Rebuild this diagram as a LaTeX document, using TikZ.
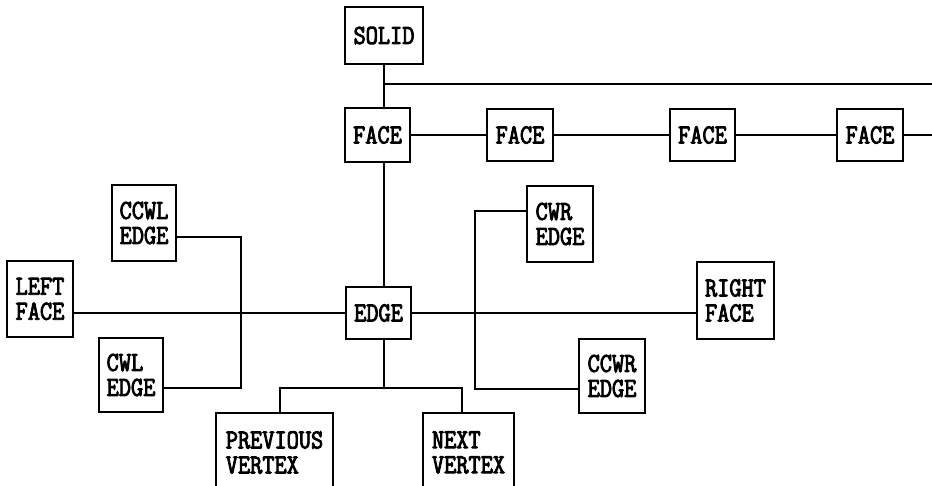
\documentclass[tikz,border=0pt]{standalone}
\usepackage{fontspec}
\setmonofont{Latin Modern Mono}[FakeStretch=0.86, AutoFakeBold=3.2]
\begin{document}
\begin{tikzpicture}[x=1pt,y=-1pt,
  box/.style={draw, line width=1.2pt, inner sep=0pt, align=left,
    font=\ttfamily\bfseries\fontsize{27.5}{25}\selectfont},
  wire/.style={line width=1.2pt}]
\clip (0,0) rectangle (932,485);
\fill[white] (0,0) rectangle (932,485);
% nodes
\node[box, minimum width=78, minimum height=57] (solid) at (384,35.5) {SOLID};
\node[box, minimum width=65, minimum height=54] (face1) at (377.5,135) {FACE};
\node[box, minimum width=66, minimum height=52] (face2) at (520,135) {FACE};
\node[box, minimum width=65, minimum height=52] (face3) at (702.5,135) {FACE};
\node[box, minimum width=66, minimum height=52] (face4) at (870,135) {FACE};
\node[box, minimum width=64, minimum height=76] (ccwl) at (144,223) {CCWL\\EDGE};
\node[box, minimum width=66, minimum height=76] (leftf) at (40,299) {LEFT\\FACE};
\node[box, minimum width=64, minimum height=74] (cwl) at (131,375) {CWL\\EDGE};
\node[box, minimum width=65, minimum height=52] (edge) at (378.5,313) {EDGE};
\node[box, minimum width=66, minimum height=76] (cwr) at (560,224) {CWR\\EDGE};
\node[box, minimum width=77, minimum height=77] (rightf) at (735.5,300.5) {RIGHT\\FACE};
\node[box, minimum width=66, minimum height=74] (ccwr) at (612,376) {CCWR\\EDGE};
\node[box, minimum width=117, minimum height=79] (prev) at (274.5,452.5) {PREVIOUS\\VERTEX};
\node[box, minimum width=91, minimum height=79] (next) at (468.5,452.5) {NEXT\\VERTEX};
% coordinates
\coordinate (t84) at (384,84);
\coordinate (r84) at (932,84);
\coordinate (r135) at (932,135);
\coordinate (lv1) at (241,237);
\coordinate (lv2) at (241,388);
\coordinate (rv1) at (475,211);
\coordinate (rv2) at (475,389);
\coordinate (vb) at (384,388);
\coordinate (vbl) at (280,388);
\coordinate (vbr) at (462,388);
% connectors
\draw[wire] (solid.south -| t84) -- (face1.north -| t84);
\draw[wire] (t84) -- (r84);
\draw[wire] (face1.south -| t84) -- (edge.north -| t84);
\draw[wire] (face1.east) -- (face2.west);
\draw[wire] (face2.east) -- (face3.west);
\draw[wire] (face3.east) -- (face4.west);
\draw[wire] (face4.east) -- (r135);
\draw[wire] (edge.west) -- (edge.west -| leftf.east);
\draw[wire] (edge.east) -- (edge.east -| rightf.west);
\draw[wire] (lv1 -| ccwl.east) -- (lv1) -- (lv2) -- (lv2 -| cwl.east);
\draw[wire] (rv1 -| cwr.west) -- (rv1) -- (rv2) -- (rv2 -| ccwr.west);
\draw[wire] (edge.south -| vb) -- (vb);
\draw[wire] (prev.north -| vbl) -- (vbl) -- (vbr) -- (next.north -| vbr);
\end{tikzpicture}
\end{document}
